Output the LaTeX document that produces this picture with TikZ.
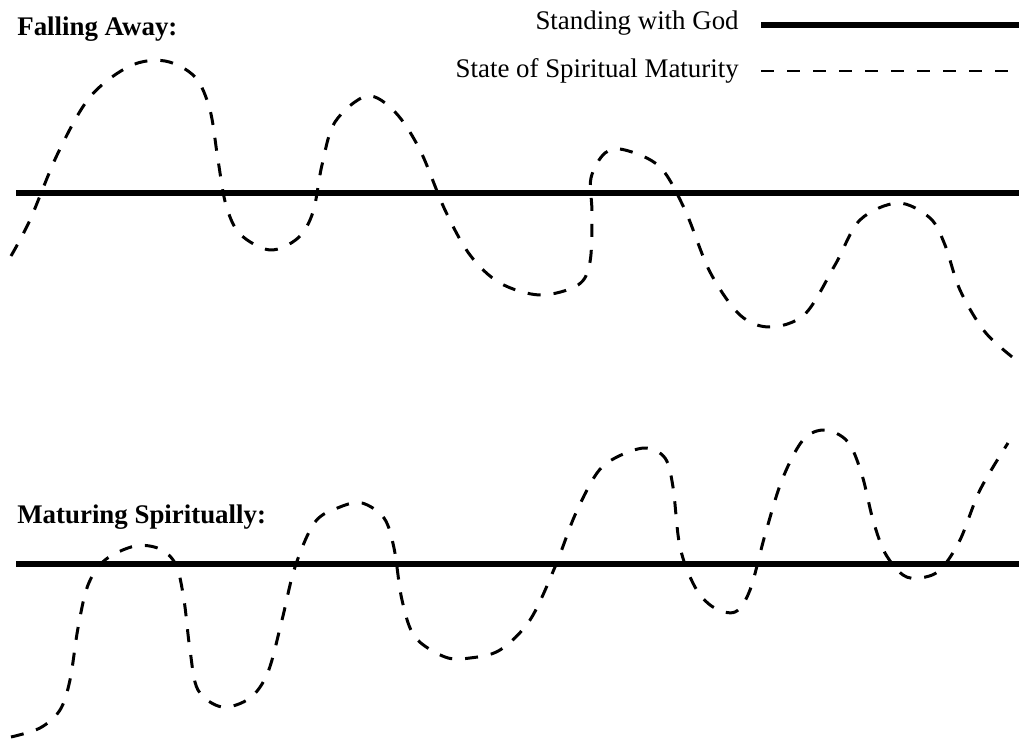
\documentclass[tikz,border=0pt]{standalone}
\usepackage{fontspec}
\setmainfont{Liberation Serif}
\usepackage{tikz}

\begin{document}
\begin{tikzpicture}[
    x=0.02cm, y=-0.02cm,                       % 1 unit = 1 pixel of the sketch
    godline/.style={line width=3.4pt},         % standing with God
    maturity/.style={line width=1.7pt, dash pattern=on 7.4pt off 7.4pt}, % spiritual state
    lbl/.style={inner sep=0pt, font=\fontsize{15.3}{18}\selectfont},
    title/.style={lbl, font=\fontsize{15.3}{18}\selectfont\bfseries, anchor=base west}
  ]
  \useasboundingbox (0,0) rectangle (1019,740);

  % titles
  \node[title] (fall) at (17,36)  {Falling Away:};
  \node[title] (grow) at (17,523) {Maturing Spiritually:};

  % legend
  \node[lbl, anchor=base east] (godlbl) at (739,30) {Standing with God};
  \node[lbl, anchor=base east] (matlbl) at (739,78) {State of Spiritual Maturity};
  \coordinate (godend) at (1019,25);
  \coordinate (matend) at (1019,71);
  \draw[godline]  (godlbl.east |- godend) ++(22,0) -- (godend);
  \draw[maturity] (matlbl.east |- matend) ++(22,0) -- (matend);

  % the two reference lines
  \coordinate (topL) at (16,193);  \coordinate (topR) at (1019,193);
  \coordinate (botL) at (16,564);  \coordinate (botR) at (1019,564);
  \draw[godline] (topL) -- (topR);
  \draw[godline] (botL) -- (botR);

  % falling away
  \draw[maturity] plot[smooth, tension=0.55] coordinates {
    (11,256) (30,220) (58,153) (90,97) (130,66) (165,61) (195,77) (210,110)
    (218,160) (226,205) (240,234) (270,250) (298,238) (313,212) (322,165)
    (335,122) (367,96) (395,112) (420,150) (445,210) (470,255) (500,283)
    (540,295) (578,285) (590,262) (592,213) (591,178) (605,153) (625,150)
    (660,167) (685,210) (710,272) (740,315) (770,327) (805,314) (835,265)
    (860,220) (898,203) (930,218) (945,245) (960,290) (985,332) (1016,360)};

  % maturing spiritually
  \draw[maturity] plot[smooth, tension=0.55] coordinates {
    (11,737) (40,728) (60,710) (70,680) (78,628) (88,585) (105,560) (135,546)
    (160,549) (176,565) (184,600) (190,650) (198,690) (222,707) (250,698)
    (268,672) (282,620) (295,567) (315,522) (340,507) (362,503) (384,518)
    (394,548) (402,600) (415,637) (445,657) (470,658) (500,650) (530,620)
    (555,567) (575,515) (597,473) (617,457) (645,448) (665,458) (673,487)
    (680,547) (695,587) (713,607) (735,612) (750,590) (765,535) (782,480)
    (803,440) (825,430) (848,442) (862,475) (873,520) (885,553) (903,575)
    (920,578) (940,570) (960,540) (980,490) (1008,443)};
\end{tikzpicture}
\end{document}
